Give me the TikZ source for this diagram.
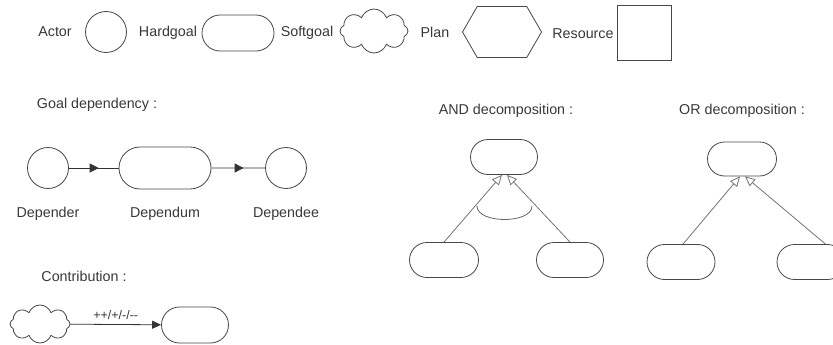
\documentclass[tikz,border=0pt]{standalone}
\usepackage{fontspec}
\setmainfont{Liberation Sans}
\usetikzlibrary{shapes.misc,shapes.symbols,arrows.meta,decorations.markings}
\begin{document}
\begin{tikzpicture}[x=1pt,y=-1pt,
  lbl/.style={text=black!78, font=\fontsize{14.3}{16}\selectfont, inner sep=0pt},
  smalllbl/.style={text=black!78, font=\fontsize{12.5}{14}\selectfont, inner sep=0pt},
  shp/.style={draw=black!72, line width=0.8pt},
  actor/.style={shp, circle, minimum size=41pt, inner sep=0pt},
  hard/.style={shp, rounded rectangle, minimum width=70pt, minimum height=35pt, inner sep=0pt},
  soft/.style={shp, cloud, cloud puffs=8, cloud puff arc=140, aspect=1.5, minimum width=66pt, minimum height=42pt, inner sep=0pt},
  planshape/.style={shp, signal, signal to=west and east, signal pointer angle=120, minimum width=79pt, minimum height=51pt, inner sep=0pt},
  res/.style={shp, rectangle, minimum width=54pt, minimum height=55pt, inner sep=0pt},
  dep/.style={draw=black!80, line width=0.8pt, postaction={decorate},
     decoration={markings, mark=at position 0.6 with {\arrow{Triangle[length=9pt,width=9pt]}}}},
  dec/.style={draw=black!55, line width=0.8pt, -{Triangle[open,length=10pt,width=9pt]}},
  contrib/.style={draw=black!80, line width=0.8pt, -{Triangle[length=9pt,width=8pt]}}
]
\useasboundingbox (0,0) rectangle (833,345);

% legend row
\node[lbl] (tActor) at (55,32) {Actor};
\node[actor] (actor) at (106,32) {};
\node[lbl] (tHard) at (168,33) {Hardgoal};
\node[hard, minimum width=72pt, minimum height=36pt] (hard) at (238,33) {};
\node[lbl] (tSoft) at (307,33) {Softgoal};
\node[soft, minimum width=68pt, minimum height=44pt] (soft) at (374,31) {};
\node[lbl] (tPlan) at (435,32) {Plan};
\node[planshape] (plan) at (502,32) {};
\node[lbl] (tRes) at (583,34) {Resource};
\node[res] (res) at (644,33) {};

% goal dependency
\node[lbl] (tGoalDep) at (97,105) {Goal dependency :};
\node[actor] (depender) at (48,168) {};
\node[hard, minimum width=92pt, minimum height=42pt] (dependum) at (165,168) {};
\node[actor] (dependee) at (286,168) {};
\draw[dep] (depender) -- (dependum);
\draw[dep] (dependum) -- (dependee);
\node[lbl] (tDepender) at (48,214) {Depender};
\node[lbl] (tDependum) at (165,214) {Dependum};
\node[lbl] (tDependee) at (286,214) {Dependee};

% contribution
\node[lbl] (tContrib) at (84,276) {Contribution :};
\node[soft, minimum width=60pt, minimum height=38pt] (csoft) at (40,324) {};
\node[hard, minimum width=67pt, minimum height=36pt] (chard) at (195,325) {};
\draw[contrib] (csoft) -- node[smalllbl, above=4pt] (tContribLbl) {++/+/-/-{}-} (chard);

% AND decomposition
\node[lbl] (tAnd) at (506,111) {AND decomposition :};
\node[hard, minimum width=67pt] (andtop) at (504,157) {};
\node[hard, minimum width=69pt] (andl) at (444,260) {};
\node[hard, minimum width=67pt] (andr) at (570,260) {};
\draw[dec] (andl.north) -- ([xshift=-2pt]andtop.south);
\draw[dec] (andr.north) -- ([xshift=3pt]andtop.south);
\draw[draw=black!60, line width=0.8pt] (477,206) .. controls (477,224) and (532,224) .. (532,206);

% OR decomposition
\node[lbl] (tOr) at (742,111) {OR decomposition :};
\node[hard, minimum width=69pt, minimum height=34pt] (ortop) at (742,159) {};
\node[hard, minimum width=68pt] (orl) at (681,262) {};
\node[hard, minimum width=68pt] (orr) at (811,262) {};
\draw[dec] ([xshift=2pt]orl.north) -- ([xshift=-2pt]ortop.south);
\draw[dec] (orr.north west) ++(31pt,0pt) coordinate (orrtop) (orrtop) -- ([xshift=3pt]ortop.south);
\end{tikzpicture}
\end{document}
